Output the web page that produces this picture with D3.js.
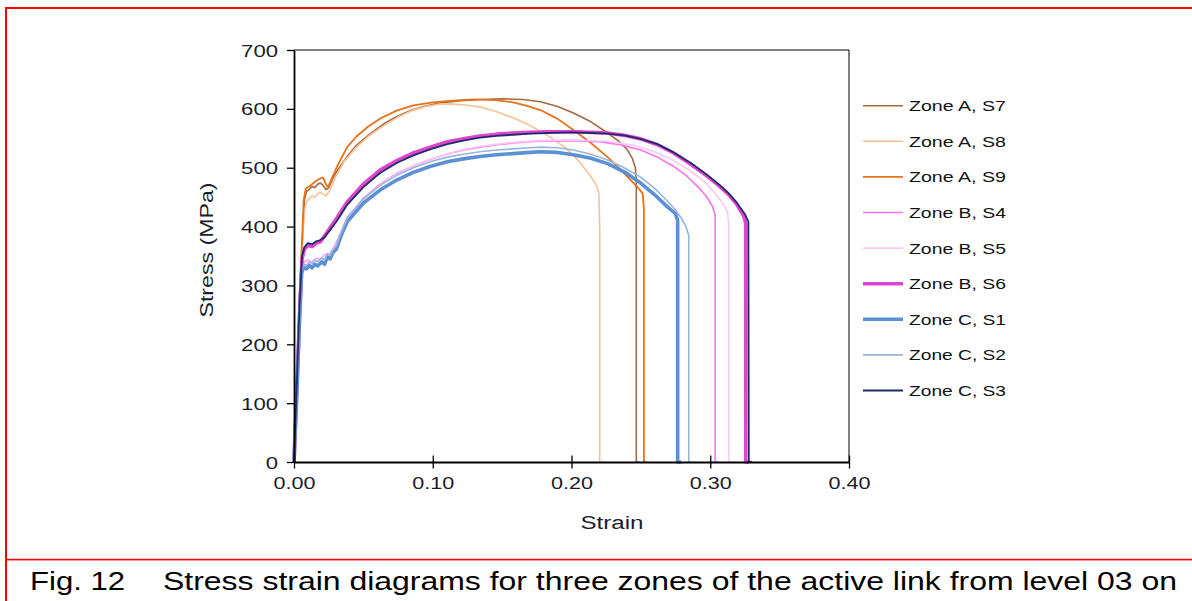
<!DOCTYPE html>
<html>
<head>
<meta charset="utf-8">
<script src="https://cdn.jsdelivr.net/npm/d3@7"></script>
<style>
  body { margin: 0; background: #fff; }
  svg { display: block; font-family: "Liberation Sans", Arial, sans-serif; }
</style>
</head>
<body>
<div id="chart"></div>
<script>
// data: [strain, stress in MPa]
var zoneA_S7 = [[0,0],[0.002,140],[0.004,280],[0.0055,350],[0.0065,400],[0.0075,445],[0.009,460],[0.011,463],[0.013,468],[0.015,466],[0.017,472],[0.019,474],[0.021,470],[0.023,463],[0.025,466],[0.028,482],[0.032,498],[0.038,518],[0.045,538],[0.055,558],[0.065,575],[0.075,588],[0.085,598],[0.095,605],[0.105,610],[0.12,614],[0.135,616],[0.15,617],[0.165,616],[0.1776,612],[0.19,604],[0.2014,593],[0.214,578],[0.226,559],[0.234,545],[0.2404,530],[0.244,515],[0.246,500],[0.2467,480],[0.2467,300],[0.2467,0],[0.249,0]];
var zoneA_S8 = [[0,0],[0.002,130],[0.004,265],[0.0055,340],[0.0065,390],[0.0078,430],[0.009,442],[0.011,447],[0.013,452],[0.015,450],[0.017,456],[0.019,458],[0.021,455],[0.023,452],[0.026,462],[0.03,485],[0.036,510],[0.045,535],[0.055,556],[0.065,572],[0.075,586],[0.085,597],[0.095,604],[0.105,608],[0.115,608],[0.125,606],[0.134,603],[0.145,596],[0.158,585],[0.17,572],[0.1848,552],[0.195,535],[0.2014,521],[0.2065,508],[0.2137,486],[0.218,470],[0.2198,455],[0.2203,400],[0.2203,0],[0.2225,0]];
var zoneA_S9 = [[0,0],[0.002,140],[0.004,280],[0.0055,360],[0.0062,400],[0.007,445],[0.0085,465],[0.011,468],[0.013,472],[0.015,476],[0.017,479],[0.019,482],[0.021,483],[0.023,472],[0.0245,467],[0.027,480],[0.031,502],[0.0383,535],[0.045,553],[0.0535,570],[0.0625,584],[0.074,597],[0.086,606],[0.1,611],[0.115,614],[0.13,616],[0.145,615],[0.158,611],[0.168,605],[0.1776,598],[0.19,583],[0.2014,564],[0.214,542],[0.226,518],[0.2345,499],[0.2426,479],[0.248,466],[0.2513,456],[0.2522,430],[0.2522,0],[0.2545,0]];
var zoneB_S4 = [[0,0],[0.002,110],[0.004,230],[0.006,320],[0.0075,340],[0.01,343],[0.013,340],[0.016,346],[0.019,344],[0.022,352],[0.025,350],[0.028,362],[0.032,380],[0.0383,415],[0.05,448],[0.062,472],[0.074,490],[0.086,503],[0.098,514],[0.11,523],[0.122,530],[0.134,535],[0.146,539],[0.158,542],[0.175,545],[0.2,546],[0.22,544],[0.235,539],[0.25,530],[0.262,518],[0.273,503],[0.283,486],[0.291,468],[0.297,452],[0.3015,435],[0.3035,420],[0.3035,0],[0.306,0]];
var zoneB_S5 = [[0,0],[0.002,105],[0.004,225],[0.006,318],[0.0075,338],[0.01,342],[0.013,339],[0.016,345],[0.019,343],[0.022,351],[0.025,349],[0.028,360],[0.032,378],[0.0383,413],[0.05,447],[0.062,471],[0.074,489],[0.086,503],[0.098,514],[0.11,523],[0.122,531],[0.134,536],[0.146,540],[0.158,543],[0.175,546],[0.2,547],[0.225,545],[0.245,538],[0.26,527],[0.273,513],[0.285,496],[0.295,478],[0.303,458],[0.309,440],[0.3125,425],[0.3134,400],[0.3134,0],[0.316,0]];
var zoneB_S6 = [[0,0],[0.002,120],[0.004,250],[0.0058,345],[0.0075,362],[0.01,368],[0.013,366],[0.016,372],[0.019,374],[0.022,384],[0.026,398],[0.031,415],[0.0383,442],[0.05,472],[0.062,496],[0.074,512],[0.086,525],[0.098,535],[0.1105,544],[0.122,549],[0.134,554],[0.146,557],[0.158,559],[0.17,560],[0.1827,561],[0.2,561],[0.215,560],[0.226,559],[0.238,555],[0.2498,549],[0.262,539],[0.2736,525],[0.286,506],[0.2982,485],[0.306,470],[0.3126,456],[0.319,438],[0.3242,418],[0.3256,405],[0.3256,0],[0.328,0]];
var zoneC_S1 = [[0,0],[0.002,115],[0.004,240],[0.0055,322],[0.007,330],[0.009,328],[0.011,334],[0.013,330],[0.015,336],[0.017,333],[0.02,340],[0.022,336],[0.024,348],[0.026,345],[0.028,356],[0.0306,362],[0.034,385],[0.0383,408],[0.05,440],[0.062,462],[0.074,479],[0.086,492],[0.098,502],[0.1105,510],[0.122,515],[0.134,519],[0.146,522],[0.158,524],[0.17,526],[0.1776,527],[0.19,526],[0.2014,522],[0.214,516],[0.226,507],[0.238,493],[0.2498,474],[0.26,454],[0.2693,433],[0.275,422],[0.2765,410],[0.2765,0],[0.279,0]];
var zoneC_S2 = [[0,0],[0.002,120],[0.004,245],[0.0055,325],[0.007,336],[0.009,334],[0.011,340],[0.013,337],[0.015,343],[0.017,340],[0.02,347],[0.022,343],[0.024,354],[0.026,351],[0.028,360],[0.0306,368],[0.034,390],[0.0383,414],[0.05,447],[0.062,470],[0.074,487],[0.086,500],[0.098,510],[0.1105,518],[0.122,523],[0.134,527],[0.146,530],[0.158,532],[0.17,534],[0.1776,535],[0.19,534],[0.2014,530],[0.214,523],[0.226,513],[0.238,500],[0.2498,484],[0.26,465],[0.268,446],[0.2736,432],[0.279,415],[0.2825,400],[0.2845,385],[0.2845,0],[0.287,0]];
var zoneC_S3 = [[0,0],[0.002,130],[0.004,265],[0.0058,350],[0.0075,365],[0.01,372],[0.013,370],[0.016,375],[0.019,377],[0.022,382],[0.026,394],[0.031,410],[0.0383,437],[0.05,467],[0.062,491],[0.074,508],[0.086,521],[0.098,531],[0.1105,540],[0.122,546],[0.134,551],[0.146,554],[0.158,556],[0.17,558],[0.1827,559],[0.2,560],[0.215,559],[0.226,558],[0.238,555],[0.2498,549],[0.262,540],[0.2736,526],[0.286,508],[0.2982,487],[0.306,472],[0.3126,458],[0.319,441],[0.325,421],[0.3275,408],[0.3278,0],[0.33,0]];

var seriesNames = ['Zone A, S7', 'Zone A, S8', 'Zone A, S9', 'Zone B, S4', 'Zone B, S5', 'Zone B, S6', 'Zone C, S1', 'Zone C, S2', 'Zone C, S3'];
var seriesData = [zoneA_S7, zoneA_S8, zoneA_S9, zoneB_S4, zoneB_S5, zoneB_S6, zoneC_S1, zoneC_S2, zoneC_S3];
var xTicks = [0, 0.1, 0.2, 0.3, 0.4];
var yTicks = [0, 100, 200, 300, 400, 500, 600, 700];
var caption = ['Fig. 12', 'Stress strain diagrams for three zones of the active link from level 03 on'];

// look of each series
var colors = ['#a8693b', '#f9c196', '#e8721a', '#ff6ef0', '#ffc8f4', '#de45cf', '#5b8fd6', '#97b6df', '#1f2c6b'];
var widths = [1.6, 1.6, 1.8, 1.6, 1.6, 3.6, 3.6, 1.6, 1.8];

var W = 1192, H = 601;
var svg = d3.select('#chart').append('svg')
    .attr('width', W)
    .attr('height', H);

svg.append('rect').attr('width', W).attr('height', H).attr('fill', '#fff');

// red frame of the page
svg.append('rect').attr('x', 5).attr('y', 7).attr('width', W - 5).attr('height', 2).attr('fill', '#ff0000');
svg.append('rect').attr('x', 5).attr('y', 7).attr('width', 2).attr('height', H - 7).attr('fill', '#ff0000');
svg.append('rect').attr('x', 5).attr('y', 558.8).attr('width', W - 5).attr('height', 1.6).attr('fill', '#ff0000');

var x = d3.scaleLinear().domain([0, 0.4]).range([294, 849]);
var y = d3.scaleLinear().domain([0, 700]).range([462, 50]);

// plot frame (top and right)
svg.append('path')
    .attr('d', 'M' + x(0) + ',' + y(700) + 'H' + x(0.4) + 'V' + y(0))
    .attr('fill', 'none')
    .attr('stroke', '#000')
    .attr('stroke-width', 1);

var line = d3.line()
    .x(function(d) { return x(d[0]); })
    .y(function(d) { return y(d[1]); });

seriesData.forEach(function(s, i) {
  svg.append('path')
      .datum(s)
      .attr('d', line)
      .attr('fill', 'none')
      .attr('stroke', colors[i])
      .attr('stroke-width', widths[i])
      .attr('stroke-linejoin', 'round');
});

// axes
var xAxis = d3.axisBottom(x).tickValues(xTicks).tickFormat(d3.format('.2f'))
    .tickSizeInner(6.5).tickSizeOuter(0);
var gx = svg.append('g').attr('transform', 'translate(0,' + y(0) + ')').call(xAxis);
gx.select('.domain').attr('stroke', '#000').attr('stroke-width', 1.8);
gx.selectAll('.tick line').attr('stroke', '#000').attr('stroke-width', 1.3).attr('y1', -6.5);
gx.selectAll('.tick text')
    .attr('y', 27).attr('dy', 0)
    .attr('fill', '#1c1c2a')
    .style('font-size', '17px')
    .attr('textLength', 42).attr('lengthAdjust', 'spacingAndGlyphs');

var yAxis = d3.axisLeft(y).tickValues(yTicks).tickSizeInner(7).tickSizeOuter(0);
var gy = svg.append('g').attr('transform', 'translate(' + x(0) + ',0)').call(yAxis);
gy.select('.domain').attr('stroke', '#000').attr('stroke-width', 1.8);
gy.selectAll('.tick line').attr('stroke', '#000').attr('stroke-width', 1.3);
gy.selectAll('.tick text')
    .attr('x', -16).attr('dy', '0.36em')
    .attr('fill', '#1c1c2a')
    .style('font-size', '17px')
    .each(function(d) {
      var t = d3.select(this);
      t.attr('textLength', String(d).length * 12.3).attr('lengthAdjust', 'spacingAndGlyphs');
    });

// axis titles
svg.append('text')
    .attr('x', 612).attr('y', 529)
    .attr('text-anchor', 'middle')
    .attr('fill', '#1c1c2a')
    .style('font-size', '18px')
    .attr('textLength', 63).attr('lengthAdjust', 'spacingAndGlyphs')
    .text('Strain');

svg.append('text')
    .attr('transform', 'translate(213,250) rotate(-90)')
    .attr('text-anchor', 'middle')
    .attr('fill', '#1c1c2a')
    .style('font-size', '18px')
    .attr('textLength', 135).attr('lengthAdjust', 'spacingAndGlyphs')
    .text('Stress (MPa)');

// legend
var legend = svg.append('g');
seriesNames.forEach(function(name, i) {
  var ly = 105.7 + i * 35.6;
  legend.append('line')
      .attr('x1', 863).attr('x2', 903)
      .attr('y1', ly).attr('y2', ly)
      .attr('stroke', colors[i])
      .attr('stroke-width', widths[i]);
  legend.append('text')
      .attr('x', 909).attr('y', ly + 5.5)
      .attr('fill', '#111')
      .style('font-size', '15.5px')
      .attr('textLength', 97).attr('lengthAdjust', 'spacingAndGlyphs')
      .text(name);
});

// caption
svg.append('text')
    .attr('x', 30).attr('y', 590)
    .attr('fill', '#000')
    .style('font-size', '25px')
    .attr('textLength', 95).attr('lengthAdjust', 'spacingAndGlyphs')
    .text(caption[0]);
svg.append('text')
    .attr('x', 163).attr('y', 590)
    .attr('fill', '#000')
    .style('font-size', '25px')
    .attr('textLength', 1014).attr('lengthAdjust', 'spacingAndGlyphs')
    .text(caption[1]);
</script>
</body>
</html>
